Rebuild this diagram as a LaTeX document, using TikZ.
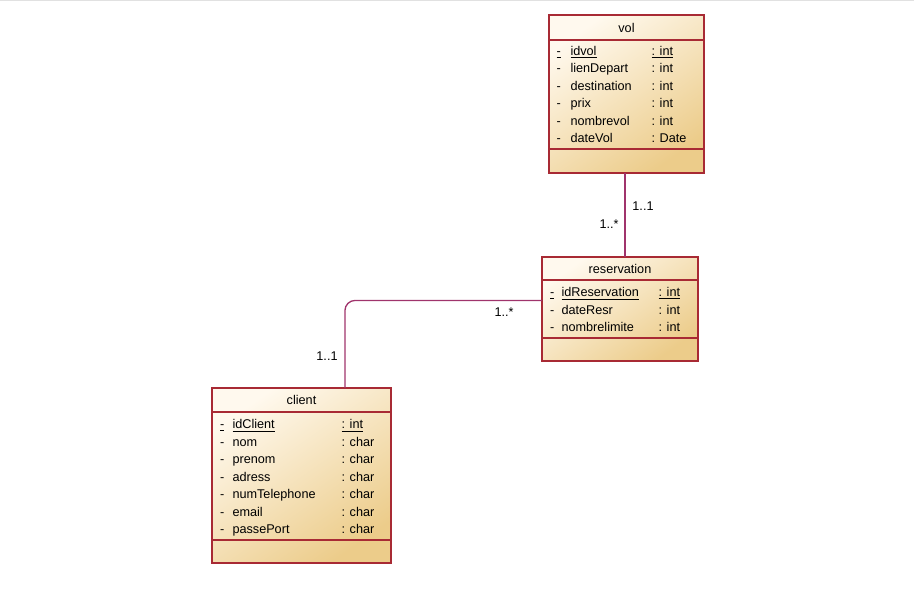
\documentclass[tikz,border=0pt]{standalone}
\usepackage{fontspec}
\setmainfont{Liberation Sans}
\definecolor{umlborder}{RGB}{168,42,52}
\definecolor{umlassoc}{RGB}{160,52,108}
\definecolor{umltop}{RGB}{255,249,238}
\definecolor{umlbottom}{RGB}{236,204,138}
\tikzset{every picture/.style={line width=0.75pt}}
\tikzset{
  classbox/.style={draw=umlborder, line width=0.9pt, top color=umltop, bottom color=umlbottom, shading angle=35, anchor=north west, inner sep=0pt, outer sep=0pt},
  classsep/.style={draw=umlborder, line width=0.9pt},
  assoc/.style={draw=umlassoc, line width=1pt},
  txt/.style={inner sep=0.75pt, text height=9.2pt, text depth=2pt, font=\fontsize{9.5}{11}\selectfont},
  attr/.style={txt, anchor=west}
}

\begin{document}
\begin{tikzpicture}[x=0.75pt,y=0.75pt,yscale=-1,xscale=1]
\useasboundingbox (0,0) rectangle (914,595);
%Straight Lines: top edge
\draw [color={rgb, 255:red, 225; green, 225; blue, 225 }, line width=0.75pt] (0,0.5) -- (914,0.5) ;

%Shape: Class vol
\node [classbox, minimum width=116.25pt, minimum height=118.5pt] (vol) at (549,15) {};
\draw [classsep] (549,40) -- (704,40) ;
\draw [classsep] (549,149) -- (704,149) ;
% Text Node
\node [txt] (volname) at (626.5,27.5) {vol};
\node [attr] (vol1a) at (555,50.5) {\underline{-}};
\node [attr] (vol1b) at (569,50.5) {\underline{idvol}};
\node [attr] (vol1c) at (650,50.5) {\underline{: int}};
\node [attr] (vol2a) at (555,68) {-};
\node [attr] (vol2b) at (569,68) {lienDepart};
\node [attr] (vol2c) at (650,68) {: int};
\node [attr] (vol3a) at (555,85.5) {-};
\node [attr] (vol3b) at (569,85.5) {destination};
\node [attr] (vol3c) at (650,85.5) {: int};
\node [attr] (vol4a) at (555,103) {-};
\node [attr] (vol4b) at (569,103) {prix};
\node [attr] (vol4c) at (650,103) {: int};
\node [attr] (vol5a) at (555,120.5) {-};
\node [attr] (vol5b) at (569,120.5) {nombrevol};
\node [attr] (vol5c) at (650,120.5) {: int};
\node [attr] (vol6a) at (555,138) {-};
\node [attr] (vol6b) at (569,138) {dateVol};
\node [attr] (vol6c) at (650,138) {: Date};

%Shape: Class reservation
\node [classbox, minimum width=117pt, minimum height=78pt] (reservation) at (542,257) {};
\draw [classsep] (542,280) -- (698,280) ;
\draw [classsep] (542,338) -- (698,338) ;
% Text Node
\node [txt] (resname) at (620,268.5) {reservation};
\node [attr] (res1a) at (548.5,292) {\underline{-}};
\node [attr] (res1b) at (560,292) {\underline{idReservation}};
\node [attr] (res1c) at (657,292) {\underline{: int}};
\node [attr] (res2a) at (548.5,309.5) {-};
\node [attr] (res2b) at (560,309.5) {dateResr};
\node [attr] (res2c) at (657,309.5) {: int};
\node [attr] (res3a) at (548.5,327) {-};
\node [attr] (res3b) at (560,327) {nombrelimite};
\node [attr] (res3c) at (657,327) {: int};

%Shape: Class client
\node [classbox, minimum width=134.25pt, minimum height=131.25pt] (client) at (212,388) {};
\draw [classsep] (212,412) -- (391,412) ;
\draw [classsep] (212,540) -- (391,540) ;
% Text Node
\node [txt] (cliname) at (301.5,400) {client};
\node [attr] (cli1a) at (218.5,424) {\underline{-}};
\node [attr] (cli1b) at (231,424) {\underline{idClient}};
\node [attr] (cli1c) at (340,424) {\underline{: int}};
\node [attr] (cli2a) at (218.5,441.5) {-};
\node [attr] (cli2b) at (231,441.5) {nom};
\node [attr] (cli2c) at (340,441.5) {: char};
\node [attr] (cli3a) at (218.5,459) {-};
\node [attr] (cli3b) at (231,459) {prenom};
\node [attr] (cli3c) at (340,459) {: char};
\node [attr] (cli4a) at (218.5,476.5) {-};
\node [attr] (cli4b) at (231,476.5) {adress};
\node [attr] (cli4c) at (340,476.5) {: char};
\node [attr] (cli5a) at (218.5,494) {-};
\node [attr] (cli5b) at (231,494) {numTelephone};
\node [attr] (cli5c) at (340,494) {: char};
\node [attr] (cli6a) at (218.5,511.5) {-};
\node [attr] (cli6b) at (231,511.5) {email};
\node [attr] (cli6c) at (340,511.5) {: char};
\node [attr] (cli7a) at (218.5,529) {-};
\node [attr] (cli7b) at (231,529) {passePort};
\node [attr] (cli7c) at (340,529) {: char};

%Straight Lines: associations
\draw [assoc] ([xshift=-1.1pt]vol.south) -- ([xshift=-1.1pt]vol.south |- reservation.north) ;
\draw [assoc, rounded corners=7.5pt] ([yshift=-6.4pt]reservation.west) -| ([xshift=32.6pt]client.north) ;

% Text Node
\node [txt] (m1) at (643,206) {1..1};
\node [txt] (m2) at (609,224) {1..*};
\node [txt] (m3) at (504,312) {1..*};
\node [txt] (m4) at (327,356) {1..1};

\end{tikzpicture}
\end{document}
